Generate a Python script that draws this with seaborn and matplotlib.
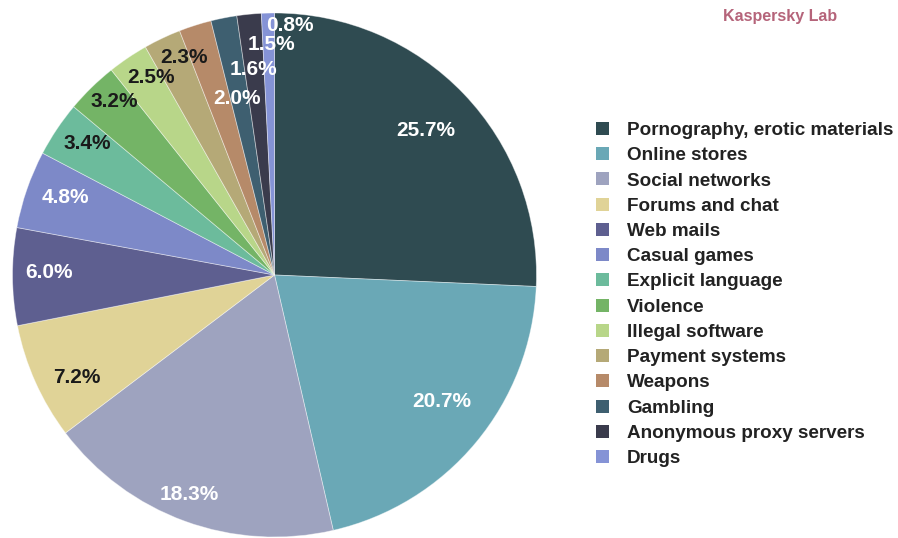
import matplotlib
matplotlib.use("Agg")
import matplotlib.pyplot as plt
import seaborn as sns
import numpy as np
from matplotlib.patches import Patch

# Share of blocked web content by category (%)
categories = [
    "Pornography, erotic materials",
    "Online stores",
    "Social networks",
    "Forums and chat",
    "Web mails",
    "Casual games",
    "Explicit language",
    "Violence",
    "Illegal software",
    "Payment systems",
    "Weapons",
    "Gambling",
    "Anonymous proxy servers",
    "Drugs",
]
shares = [25.7, 20.7, 18.3, 7.2, 6.0, 4.8, 3.4, 3.2, 2.5, 2.3, 2.0, 1.6, 1.5, 0.8]

colors = [
    "#2f4b51", "#6aa8b6", "#9ea3bf", "#e0d397", "#5e5f90", "#7d89c8",
    "#6cbb9c", "#74b466", "#b8d689", "#b5a977", "#b68a69", "#3e5f70",
    "#3a3b4c", "#8593d6",
]
label_colors = [
    "white", "white", "white", "#1a1a1a", "white", "white",
    "#1a1a1a", "#1a1a1a", "#1a1a1a", "#1a1a1a", "white", "white",
    "white", "white",
]
# radial distance (fraction of radius) and angular nudge (deg) for each label
label_radius = [0.80, 0.80, 0.90, 0.85, 0.86, 0.85, 0.875, 0.90, 0.89, 0.90,
                0.69, 0.79, 0.88, 0.955]
label_nudge = [0, 2.5, -1.2, 3.2, -0.9, -1.3, -1.3, -1.5, -2.1, -2.9,
               -5.7, -5.3, -4.7, -4.9]

sns.set_theme(style="white")
plt.rcParams["font.family"] = ["Liberation Sans", "DejaVu Sans"]

W, H = 898, 538
fig = plt.figure(figsize=(W / 100, H / 100), dpi=100)
fig.patch.set_facecolor("white")

cx, cy, r = 274.5, 275, 262
ax = fig.add_axes([(cx - r) / W, (H - cy - r) / H, 2 * r / W, 2 * r / H])
wedges, _ = ax.pie(
    shares,
    colors=colors,
    startangle=90,
    counterclock=False,
    radius=1,
    wedgeprops=dict(edgecolor=(1, 1, 1, 0.45), linewidth=0.6),
)
ax.set_xlim(-1, 1)
ax.set_ylim(-1, 1)
ax.set_aspect("equal")
ax.axis("off")

for w, v, rad, nud, tc in zip(wedges, shares, label_radius, label_nudge, label_colors):
    theta = np.deg2rad((w.theta1 + w.theta2) / 2 + nud)
    ax.text(rad * np.cos(theta), rad * np.sin(theta), f"{v:.1f}%",
            ha="center", va="center", fontsize=15, fontweight="bold", color=tc)

handles = [Patch(facecolor=c, edgecolor="none") for c in colors]
fig.legend(
    handles, categories,
    loc="upper left",
    bbox_to_anchor=(596 / W, 1 - 122 / H),
    frameon=False,
    prop=dict(weight="bold", size=13.6),
    handlelength=0.68,
    handleheight=0.68,
    handletextpad=0.95,
    labelspacing=0.43,
    borderpad=0,
    borderaxespad=0,
    labelcolor="#222222",
)

fig.text(780 / W, 1 - 16 / H, "Kaspersky Lab", ha="center", va="center",
         fontsize=11.5, fontweight="bold", color="#b5647a")

fig.savefig("out.png", dpi=100, facecolor="white")
